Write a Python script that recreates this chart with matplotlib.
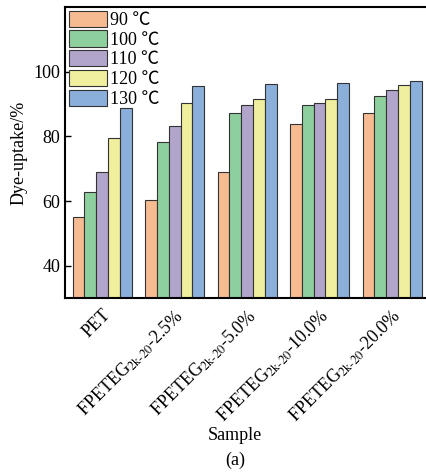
import numpy as np
import matplotlib
matplotlib.use("Agg")
import matplotlib.pyplot as plt

plt.rcParams['font.family'] = ['Liberation Serif', 'Noto Sans CJK SC']
plt.rcParams['mathtext.fontset'] = 'stix'

samples = ['PET',
           'FPETEG$_{\\text{2k-20}}$-2.5%',
           'FPETEG$_{\\text{2k-20}}$-5.0%',
           'FPETEG$_{\\text{2k-20}}$-10.0%',
           'FPETEG$_{\\text{2k-20}}$-20.0%']
temps = ['90 ℃', '100 ℃', '110 ℃', '120 ℃', '130 ℃']
uptake_90 = [55.2, 60.3, 69.0, 83.8, 87.2]
uptake_100 = [62.9, 78.2, 87.2, 89.6, 92.5]
uptake_110 = [69.1, 83.3, 89.8, 90.3, 94.3]
uptake_120 = [79.5, 90.3, 91.5, 91.5, 95.8]
uptake_130 = [88.8, 95.6, 96.1, 96.5, 97.1]
series = [uptake_90, uptake_100, uptake_110, uptake_120, uptake_130]
colors = ['#F7BB92', '#8ECF9E', '#B2A5CC', '#EFEF9E', '#8AAFDB']

fig = plt.figure(figsize=(4.26, 4.72), dpi=100)
ax = fig.add_axes([0.1526, 0.3686, 0.855, 0.6164])

x = np.arange(len(samples))
w = 0.163
for i, vals in enumerate(series):
    ax.bar(x + (i - 2) * w, vals, w, color=colors[i], edgecolor='#333333',
           linewidth=0.8, label=temps[i])

ax.set_xlim(-0.513, 4.513)
ax.set_ylim(30, 120)
ax.set_yticks([40, 60, 80, 100])
ax.set_xticks(x)
ax.set_xticklabels(samples, rotation=45, ha='right', rotation_mode='anchor',
                   fontsize=13)
ax.tick_params(axis='y', direction='in', labelsize=13, length=4, width=1)
ax.tick_params(axis='x', length=0, pad=6)
for s in ax.spines.values():
    s.set_linewidth(1.5)
ax.set_ylabel('Dye-uptake/%', fontsize=13)

ax.legend(loc='upper left', frameon=False, fontsize=13, handlelength=2.1,
          handleheight=1.0, handletextpad=0.2, labelspacing=0.08,
          borderaxespad=0.1, borderpad=0.1)

fig.text(0.552, 0.078, 'Sample', ha='center', va='center', fontsize=13)
fig.text(0.552, 0.025, '(a)', ha='center', va='center', fontsize=13)

fig.savefig('out.png', dpi=100)
